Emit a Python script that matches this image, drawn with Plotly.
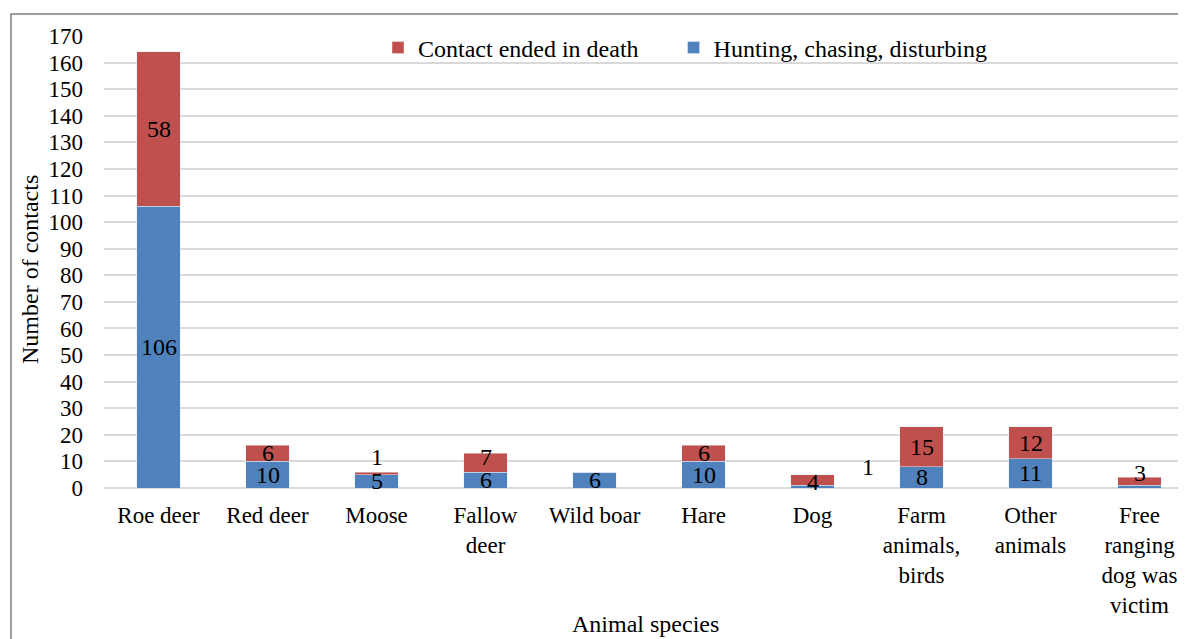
import plotly.graph_objects as go

categories = ["Roe deer", "Red deer", "Moose", "Fallow<br>deer", "Wild boar", "Hare", "Dog",
              "Farm<br>animals,<br>birds", "Other<br>animals", "Free<br>ranging<br>dog was<br>victim"]
hunting = [106, 10, 5, 6, 6, 10, 1, 8, 11, 1]
death = [58, 6, 1, 7, 0, 6, 4, 15, 12, 3]
y_ticks = list(range(0, 171, 10))

BLUE = "#4f81bd"
RED = "#c0504d"
FONT = "Liberation Serif, Times New Roman, serif"

idx = list(range(len(categories)))
x_end = -0.5 + 1082 / 109

fig = go.Figure()
fig.add_trace(go.Bar(x=idx, y=hunting, name="Hunting, chasing, disturbing",
                     marker=dict(color=BLUE), width=0.4))
fig.add_trace(go.Bar(x=idx, y=death, name="Contact ended in death" + "\u00a0" * 5,
                     marker=dict(color=RED), width=0.4))

# label placement tweaks (as positioned in the original chart)
red_label_y = {3: 11.5, 6: 2.4, 9: 5.6}

ann = []
for i, (h, d) in enumerate(zip(hunting, death)):
    if h > 1:
        ann.append(dict(x=i, y=h / 2, text=str(h), xanchor="center"))
    elif h == 1:
        ann.append(dict(x=min(i + 0.44, x_end - 0.05), y=7.9, text="1", xanchor="left"))
    if d > 1:
        yy = red_label_y.get(i, h + d / 2)
        ann.append(dict(x=i, y=yy, text=str(d), xanchor="center"))
    elif d == 1:
        ann.append(dict(x=i, y=h + d + 5.5, text="1", xanchor="center"))
for a in ann:
    fig.add_annotation(x=a["x"], y=a["y"], text=a["text"], showarrow=False,
                       xanchor=a["xanchor"], xref="x", yref="y",
                       font=dict(family=FONT, size=24, color="black"))

# axis titles
fig.add_annotation(x=0.5, y=(488 - 624) / 452, xref="paper", yref="paper",
                   text="Animal species", showarrow=False, yanchor="middle",
                   font=dict(family=FONT, size=24, color="black"))
fig.add_annotation(x=(30 - 104) / 1082, y=(488 - 270) / 452, xref="paper", yref="paper",
                   text="Number of contacts", showarrow=False, textangle=-90,
                   xanchor="center", yanchor="middle",
                   font=dict(family=FONT, size=24, color="black"))

fig.add_shape(type="rect", xref="paper", yref="paper",
              x0=(11 - 104) / 1082, x1=1.1, y0=-0.4, y1=(488 - 14) / 452,
              line=dict(color="#7f7f7f", width=1.5), fillcolor="rgba(0,0,0,0)", layer="below")

fig.update_layout(
    barmode="stack",
    width=1186, height=639,
    margin=dict(l=96, r=8, t=28, b=159, autoexpand=False),
    plot_bgcolor="white", paper_bgcolor="white",
    font=dict(family=FONT, size=23, color="black"),
    legend=dict(orientation="h", x=(378 - 104) / 1082, y=(488 - 48) / 452,
                xanchor="left", yanchor="middle",
                traceorder="reversed", font=dict(family=FONT, size=24),
                bgcolor="rgba(255,255,255,0)", itemwidth=30, tracegroupgap=0),
    xaxis=dict(tickmode="array", tickvals=idx, ticktext=categories,
               range=[-0.5, x_end], showgrid=False, zeroline=False,
               ticks="", showline=False, automargin=False, ticklabelstandoff=11,
               tickfont=dict(family=FONT, size=23)),
    yaxis=dict(range=[0, 170], tickvals=y_ticks, showgrid=True, gridcolor="#d9d9d9",
               gridwidth=1.5, zeroline=True, zerolinecolor="#d9d9d9", zerolinewidth=1.5,
               ticks="", showline=False, ticklabelstandoff=20, automargin=False,
               tickfont=dict(family=FONT, size=23)),
    bargap=0.6,
)

fig.write_html("out.html")
